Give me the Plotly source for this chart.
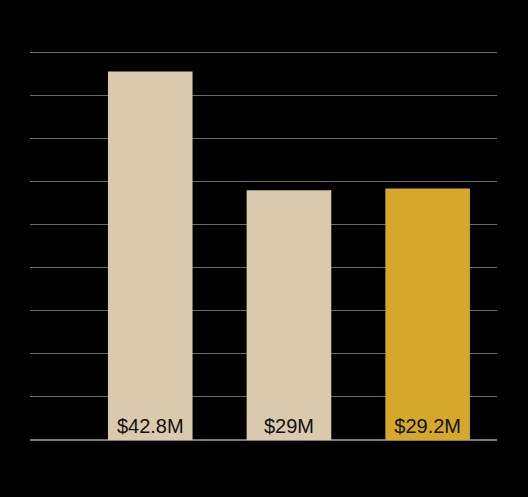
import plotly.graph_objects as go

categories = ["Period 1", "Period 2", "Period 3"]
values = [42.8, 29.0, 29.2]
labels = ["$42.8M", "$29M", "$29.2M"]
colors = ["#D9CAAD", "#D9CAAD", "#D5A82B"]

fig = go.Figure(go.Bar(
    x=categories, y=values, text=labels,
    marker=dict(color=colors, line=dict(width=0)),
    textposition="inside", insidetextanchor="start",
    textfont=dict(family="Liberation Sans, Arial", size=20, color="#111111"),
    textangle=0, width=0.61,
))

fig.update_layout(
    width=528, height=497,
    paper_bgcolor="#000000", plot_bgcolor="#000000",
    margin=dict(l=30, r=31, t=50, b=57),
    showlegend=False,
    uniformtext=dict(minsize=20, mode="show"),
)
fig.update_xaxes(range=[-0.867, 2.5], showticklabels=False, showgrid=False,
                 zeroline=False, showline=False, ticks="")
fig.update_yaxes(range=[0, 45.3], tick0=0, dtick=5, showticklabels=False, showgrid=True,
                 gridcolor="#6a6a6a", gridwidth=1, zeroline=True,
                 zerolinecolor="#777777", zerolinewidth=2, ticks="")

fig.write_html(
    "out.html",
    config={"displayModeBar": False},
    post_script="document.body.style.margin='0';document.body.style.background='#000';",
)
